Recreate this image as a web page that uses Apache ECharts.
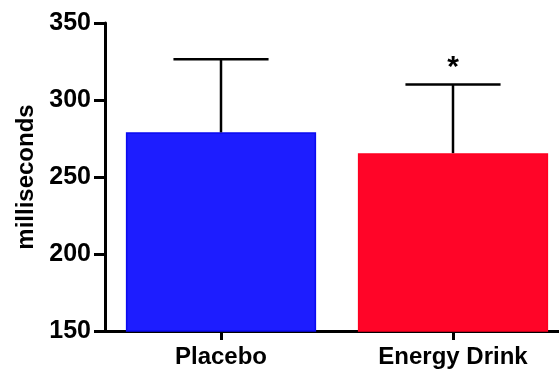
<!DOCTYPE html>
<html><head><meta charset="utf-8">
<script src="https://cdn.jsdelivr.net/npm/echarts@6/dist/echarts.min.js"></script>
<style>html,body{margin:0;padding:0;background:#fff}#c{width:559px;height:374px}</style>
</head><body><div id="c"></div>
<script>
var categories = ["Placebo", "Energy Drink"];
var means = [279, 265.5];
var errorTops = [326.5, 310];
var significance = ["", "*"];
var yTicks = [150, 200, 250, 300, 350];
var barColors = ["#1d1dff", "#ff0528"];
var barBorders = ["#0a0af0", "#ff0020"];

var chart = echarts.init(document.getElementById('c'));
var font = '"Liberation Sans", Arial, sans-serif';
chart.setOption({
  animation: false,
  grid: {left: 105, top: 23, height: 308, width: 464, containLabel: false, outerBoundsMode: 'none'},
  xAxis: {
    type: 'category', data: categories,
    axisLine: {lineStyle: {color: '#000', width: 3}},
    axisTick: {show: true, alignWithLabel: true, length: 9, lineStyle: {width: 3, color: '#000'}, interval: 0},
    axisLabel: {color: '#000', fontWeight: 'bold', fontSize: 24, fontFamily: font, margin: 14}
  },
  yAxis: {
    type: 'value', min: yTicks[0], max: yTicks[yTicks.length - 1], interval: 50,
    name: 'milliseconds', nameLocation: 'middle', nameGap: 67,
    nameTextStyle: {color: '#000', fontWeight: 'bold', fontSize: 24, fontFamily: font},
    axisLine: {show: true, lineStyle: {color: '#000', width: 3}},
    axisTick: {show: true, length: 11, lineStyle: {width: 3, color: '#000'}},
    splitLine: {show: false},
    axisLabel: {color: '#000', fontWeight: 'bold', fontSize: 25, fontFamily: font, margin: 14}
  },
  series: [
    {
      type: 'bar', barWidth: '82%', z: 2,
      data: means.map(function (v, i) {
        return {value: v, itemStyle: {color: barColors[i], borderColor: barBorders[i], borderWidth: 1.5}};
      })
    },
    {
      type: 'custom', z: 3,
      data: means.map(function (v, i) { return [i, v, errorTops[i], significance[i]]; }),
      renderItem: function (params, api) {
        var i = api.value(0);
        var base = api.coord([i, api.value(1)]);
        var top = api.coord([i, api.value(2)]);
        var bw = api.size([1, 0])[0] * 0.82;
        var half = bw / 4;
        var children = [
          {type: 'line', shape: {x1: base[0], y1: base[1], x2: top[0], y2: top[1]}, style: {stroke: '#000', lineWidth: 2.5}},
          {type: 'line', shape: {x1: top[0] - half, y1: top[1], x2: top[0] + half, y2: top[1]}, style: {stroke: '#000', lineWidth: 2.5}}
        ];
        var sig = significance[params.dataIndex];
        if (sig) {
          children.push({type: 'text', style: {text: sig, x: top[0], y: top[1] - 2, textAlign: 'center', textVerticalAlign: 'bottom', fill: '#000', font: 'bold 30px ' + font}});
        }
        return {type: 'group', children: children};
      }
    }
  ]
});
</script></body></html>
